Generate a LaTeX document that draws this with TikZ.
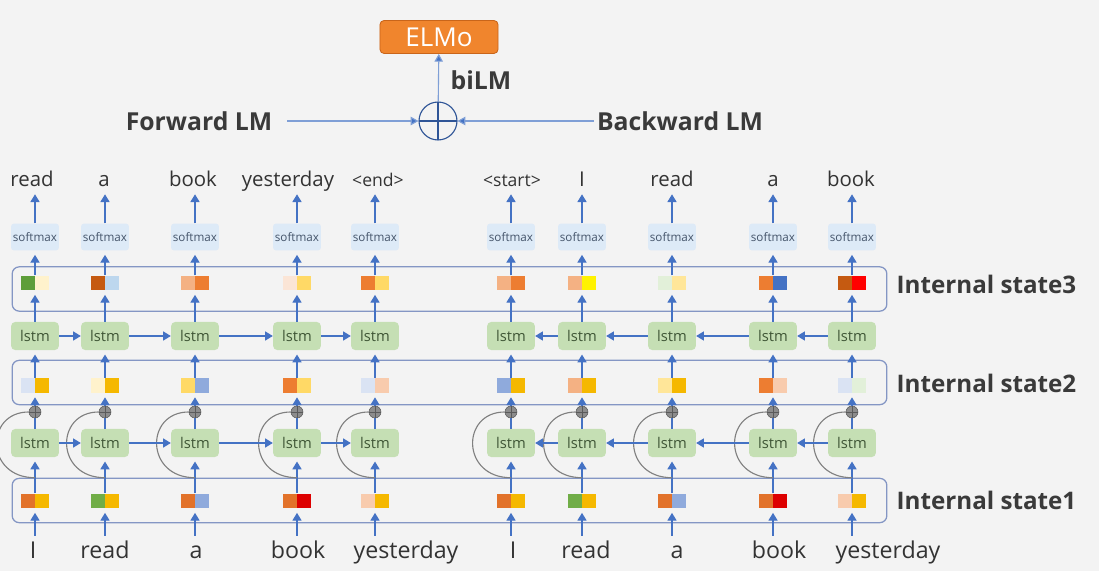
\documentclass[tikz,border=0pt]{standalone}
\usepackage{fontspec}
\setmainfont{Open Sans}
\usetikzlibrary{arrows.meta, positioning}

\definecolor{bgc}{HTML}{F3F3F3}
\definecolor{txt}{HTML}{333333}
\definecolor{headtxt}{HTML}{3A3A3A}
\definecolor{linkblue}{HTML}{4472C4}
\definecolor{toplinkc}{HTML}{7F9FD6}
\definecolor{statebox}{HTML}{8496C4}
\definecolor{smfill}{HTML}{DDEAF7}
\definecolor{smtxt}{HTML}{44546A}
\definecolor{lstmfill}{HTML}{C5DFB4}
\definecolor{lstmtxt}{HTML}{3F5636}
\definecolor{resgray}{HTML}{808080}
\definecolor{plusgray}{HTML}{8C8C8C}
\definecolor{plusdark}{HTML}{5A5A5A}
\definecolor{elmofill}{HTML}{F0852D}
\definecolor{elmoline}{HTML}{C9651A}
\definecolor{sumblue}{HTML}{2F5597}
% square colours
\definecolor{cor}{HTML}{ED7D31}
\definecolor{cora}{HTML}{E2722A}
\definecolor{cdor}{HTML}{C55A11}
\definecolor{clor}{HTML}{F4B183}
\definecolor{cpch}{HTML}{F8CBAD}
\definecolor{cppch}{HTML}{FBE5D6}
\definecolor{cgold}{HTML}{F5B800}
\definecolor{cyel}{HTML}{FFD966}
\definecolor{clyel}{HTML}{FFE699}
\definecolor{cpyel}{HTML}{FFF2CC}
\definecolor{cpure}{HTML}{FFF200}
\definecolor{cblue}{HTML}{4472C4}
\definecolor{cmblue}{HTML}{8FAADC}
\definecolor{clblue}{HTML}{BDD7EE}
\definecolor{cpblue}{HTML}{DAE3F3}
\definecolor{cgreen}{HTML}{70AD47}
\definecolor{cdgreen}{HTML}{5E9E3A}
\definecolor{cpgreen}{HTML}{E2F0D9}
\definecolor{cred}{HTML}{FF0000}
\definecolor{cdred}{HTML}{DD0000}

\newcommand{\tagword}[1]{{\fontsize{12.5}{12.5}\selectfont #1}}

\begin{document}
\begin{tikzpicture}[x=0.025cm, y=-0.025cm,
    word/.style={font=\fontsize{14.5}{14.5}\selectfont, text=txt, inner sep=1pt, anchor=base, text height=11pt, text depth=3pt},
    bword/.style={font=\fontsize{16.5}{16.5}\selectfont, text=txt, inner sep=1pt, anchor=base, text height=12.5pt, text depth=3.5pt},
    smax/.style={rectangle, rounded corners=2pt, fill=smfill, minimum width=34pt, minimum height=19pt, inner sep=0pt, font=\fontsize{8.3}{8.3}\selectfont, text=smtxt},
    lstm/.style={rectangle, rounded corners=3pt, fill=lstmfill, minimum width=34pt, minimum height=20pt, inner sep=0pt, font=\fontsize{10.5}{10.5}\selectfont, text=lstmtxt},
    sq/.style={rectangle, minimum width=10pt, minimum height=10.5pt, inner sep=0pt},
    state/.style={rectangle, draw=statebox, line width=0.9pt, rounded corners=5pt, minimum width=622pt, minimum height=31.5pt, inner sep=0pt},
    lbl/.style={font=\bfseries\fontsize{17.2}{17.2}\selectfont, text=headtxt, inner sep=1pt, anchor=west},
    head/.style={font=\bfseries\fontsize{17.6}{17.6}\selectfont, text=headtxt, inner sep=1pt},
    elmo/.style={rectangle, rounded corners=3pt, fill=elmofill, draw=elmoline, line width=0.6pt, minimum width=84pt, minimum height=23.5pt, inner sep=0pt, font=\fontsize{18.5}{18.5}\selectfont, text=white},
    sum/.style={circle, draw=sumblue, line width=0.8pt, minimum size=27pt, inner sep=0pt,
        path picture={\draw[sumblue, line width=0.8pt] (path picture bounding box.north) -- (path picture bounding box.south)
            (path picture bounding box.west) -- (path picture bounding box.east);}},
    add/.style={circle, fill=plusgray, draw=plusdark, line width=0.4pt, minimum size=8.5pt, inner sep=0pt,
        path picture={\draw[plusdark, line width=0.6pt] (path picture bounding box.north) -- (path picture bounding box.south)
            (path picture bounding box.west) -- (path picture bounding box.east);}},
    link/.style={draw=linkblue, line width=0.8pt, shorten >=3pt, -{Triangle[length=5.5pt,width=6.5pt]}},
    hlink/.style={draw=linkblue, line width=0.8pt, -{Triangle[length=5.5pt,width=6.5pt]}},
    toplink/.style={draw=toplinkc, line width=0.8pt, -{Triangle[length=5.5pt,width=6pt, fill=linkblue]}},
    plainline/.style={draw=linkblue, line width=0.8pt},
    res/.style={draw=resgray, line width=0.8pt}
]
    % Background
    \useasboundingbox (0,0) rectangle (1099,571);
    \fill[bgc] (0,0) rectangle (1099,571);

    % ELMo on top of the two LMs
    \node[elmo] (elmo) at (439,37) {ELMo};
    \node[sum] (bi) at (438,121) {};
    \node[head] (bilm) at (481,80) {biLM};
    \node[head] (fwd) at (199,121) {Forward LM};
    \node[head] (bwd) at (680,121) {Backward LM};
    \draw[toplink] (bi) -- (elmo);
    \draw[toplink, shorten <=9.5pt] (fwd) -- (bi);
    \draw[toplink, shorten <=1pt] (bwd) -- (bi);

    % Internal states
    \node[state] (st3) at (449.5,289) {};
    \node[state] (st2) at (449.5,382.5) {};
    \node[state] (st1) at (449.5,500.5) {};
    \node[lbl] (lab3) at (895,284) {Internal state3};
    \node[lbl] (lab2) at (895,383) {Internal state2};
    \node[lbl] (lab1) at (895,500) {Internal state1};

    % Columns: softmax, two lstm layers, residual add
    \foreach \i/\x in {1/35,2/105,3/195,4/297,5/375,6/511,7/582,8/672,9/773,10/852} {
        \node[smax] (sm-\i) at (\x,237) {softmax};
        \node[lstm] (l2-\i) at (\x,336) {lstm};
        \node[add] (add-\i) at (\x,412) {};
        \node[lstm] (l1-\i) at (\x,443) {lstm};
    }

    % Predicted words
    \foreach \i/\x/\w in {1/32/read,2/104/a,3/193/book,4/288/yesterday,5/378/{\tagword{<end>}},
                          6/512/{\tagword{<start>}},7/582/I,8/672/read,9/773/a,10/851/book}
        \node[word] (tw-\i) at (\x,187) {\w};

    % Input words
    \foreach \i/\x/\w in {1/33/I,2/105/read,3/196/a,4/298/book,5/406/yesterday,
                          6/513/I,7/586/read,8/677/a,9/779/book,10/888/yesterday}
        \node[bword] (bw-\i) at (\x,558) {\w};

    % State vectors (left half / right half)
    \foreach \i/\x/\pa/\pb/\qa/\qb/\ra/\rb in {
        1/35/cdgreen/cpyel/cpblue/cgold/cora/cgold,
        2/105/cdor/clblue/cpyel/cgold/cgreen/cgold,
        3/195/clor/cor/cyel/cmblue/cora/cmblue,
        4/297/cppch/cyel/cor/cyel/cora/cdred,
        5/375/cor/cyel/cpblue/cpch/cpch/cgold,
        6/511/clor/cor/cmblue/cgold/cora/cgold,
        7/582/clor/cpure/clor/cgold/cgreen/cgold,
        8/672/cpgreen/clyel/clyel/cgold/cora/cmblue,
        9/773/cor/cblue/cor/cpch/cora/cdred,
        10/852/cdor/cred/cpblue/cpgreen/cpch/cgold} {
        \node[sq, fill=\pa, anchor=east] (s3l-\i) at (\x,283) {};
        \node[sq, fill=\pb, anchor=west] (s3r-\i) at (\x,283) {};
        \node[sq, fill=\qa, anchor=east] (s2l-\i) at (\x,385.5) {};
        \node[sq, fill=\qb, anchor=west] (s2r-\i) at (\x,385.5) {};
        \node[sq, fill=\ra, anchor=east] (s1l-\i) at (\x,501) {};
        \node[sq, fill=\rb, anchor=west] (s1r-\i) at (\x,501) {};
    }

    % Vertical flow in every column
    \foreach \i in {1,...,10} {
        \draw[link, shorten <=2pt] (s1l-\i.south east |- bw-\i.north) -- (s1l-\i.south east);
        \draw[link] (s1l-\i.north east) -- (l1-\i.south);
        \draw[res] (s1l-\i.north east |- st1.north) .. controls +(-50,0) and +(-44,0) .. (add-\i.west);
        \draw[plainline] (l1-\i.north) -- (add-\i.south);
        \draw[link] (add-\i.north) -- (s2l-\i.south east);
        \draw[link] (s2l-\i.north east) -- (l2-\i.south);
        \draw[link] (l2-\i.north) -- (s3l-\i.south east);
        \draw[link] (s3l-\i.north east) -- (sm-\i.south);
        \draw[link, shorten >=1pt] (sm-\i.north) -- (sm-\i.north |- tw-\i.south);
    }

    % Forward LM: left to right
    \foreach \i/\j in {1/2,2/3,3/4,4/5} {
        \draw[hlink] (l1-\i) -- (l1-\j);
        \draw[hlink] (l2-\i) -- (l2-\j);
    }
    % Backward LM: right to left
    \foreach \i/\j in {6/7,7/8,8/9,9/10} {
        \draw[hlink] (l1-\j) -- (l1-\i);
        \draw[hlink] (l2-\j) -- (l2-\i);
    }
\end{tikzpicture}
\end{document}
